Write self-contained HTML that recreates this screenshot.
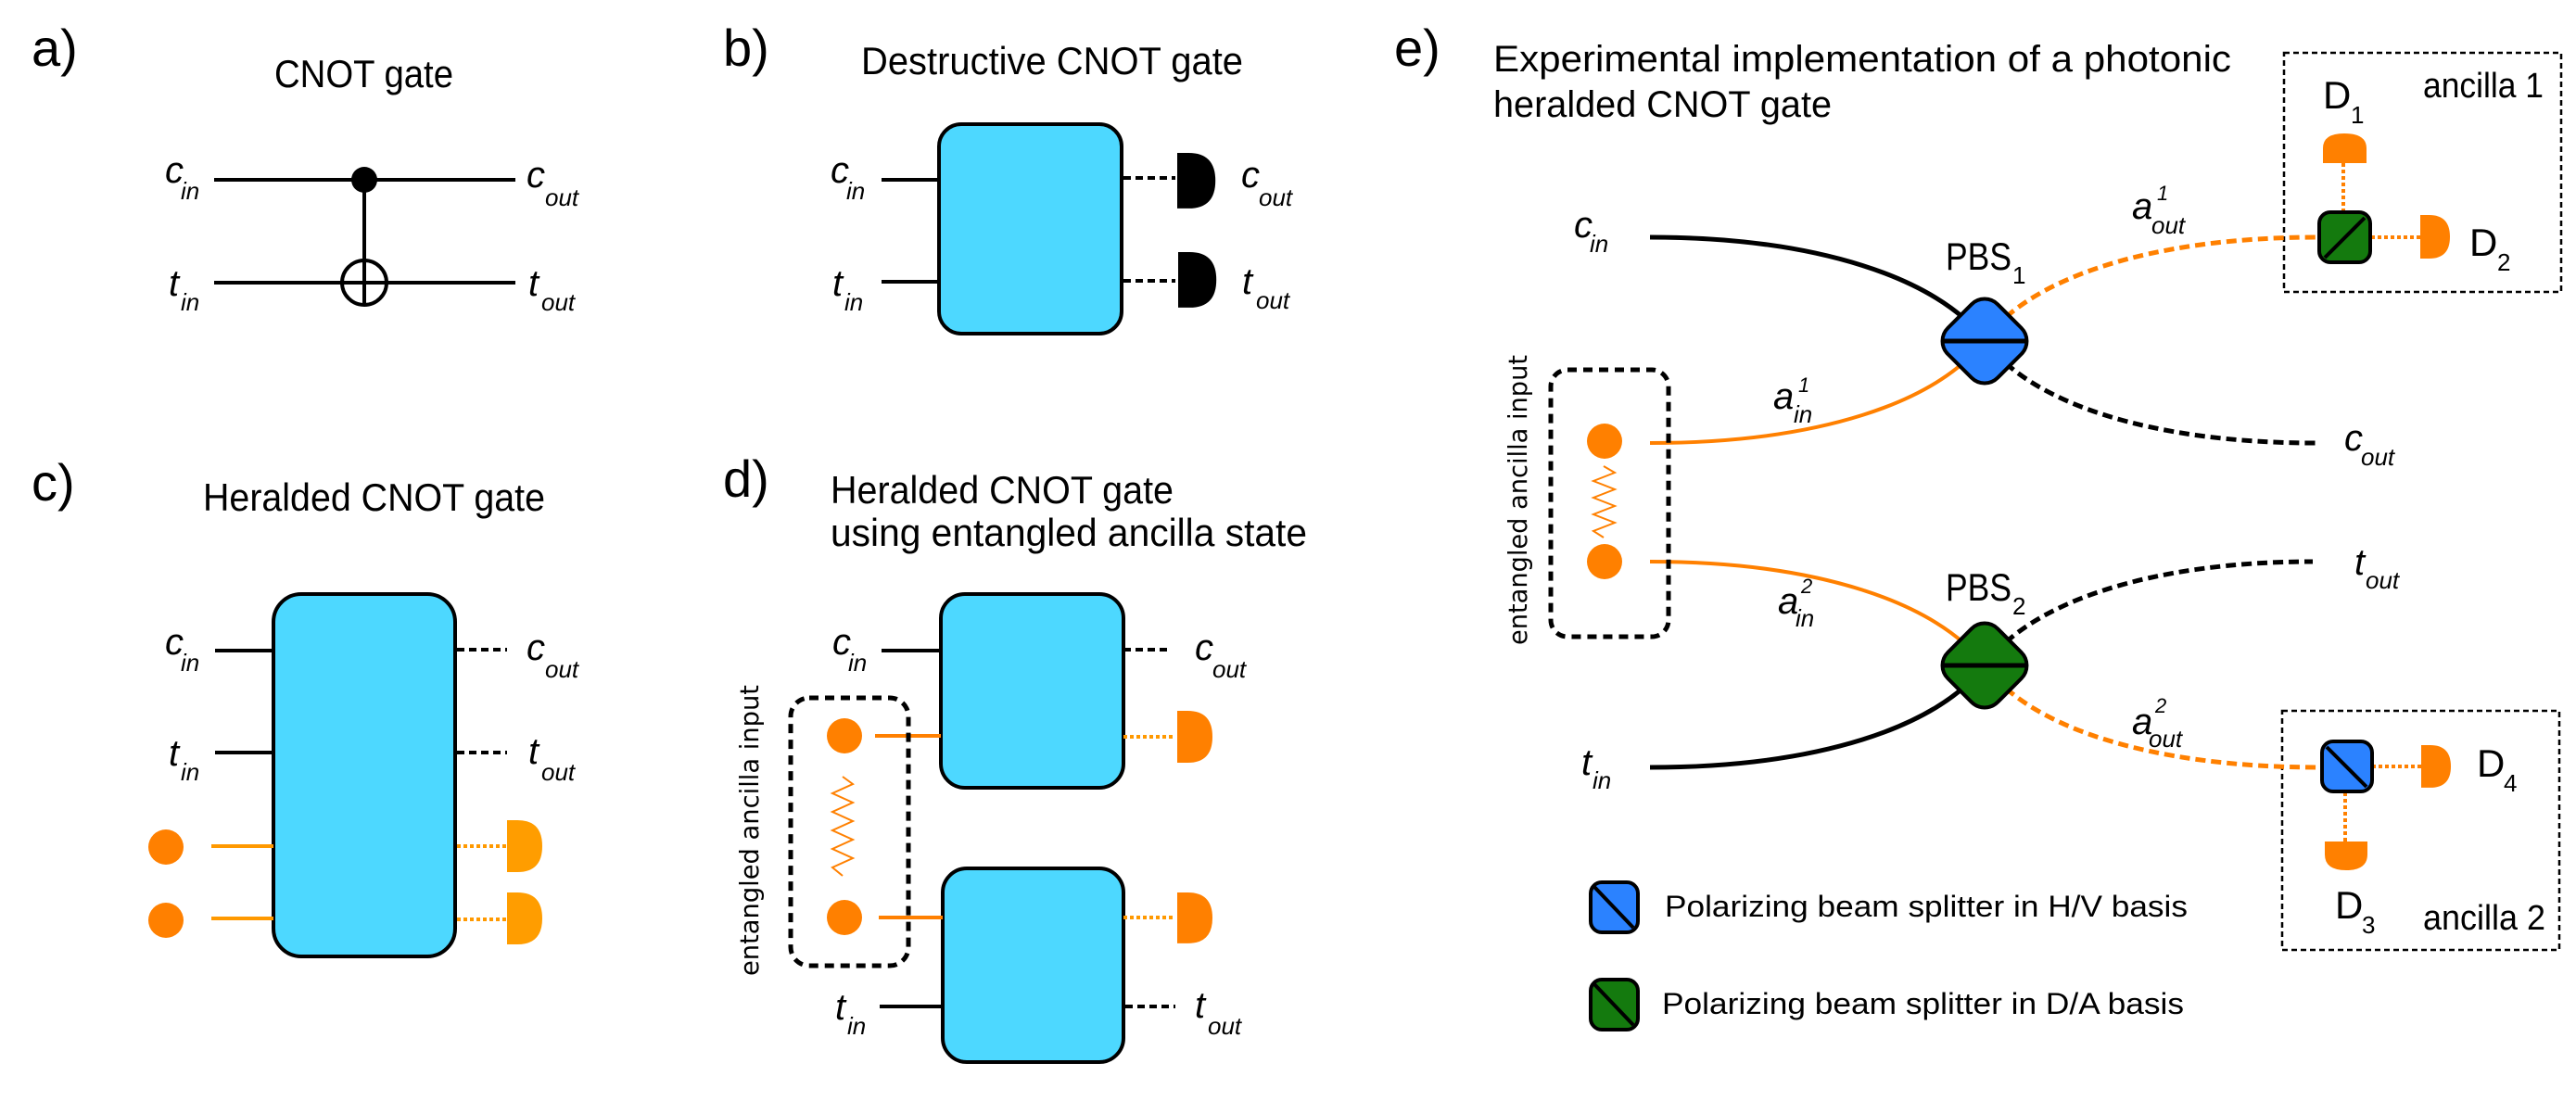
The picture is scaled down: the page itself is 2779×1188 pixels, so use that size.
<!DOCTYPE html>
<html><head><meta charset="utf-8"><style>
html,body{margin:0;padding:0;background:#fff;}
svg{display:block}
text{font-family:"Liberation Sans",sans-serif;fill:#000}
.i{font-style:italic}
</style></head><body>
<svg width="2779" height="1188" viewBox="0 0 2779 1188" xmlns="http://www.w3.org/2000/svg">
<defs>
<path id="det" d="M0,0 L12,0 Q40,0 40,28 Q40,56 12,56 L0,56 Z"/>
</defs>
<!-- Panel a -->
<text x="34" y="71" font-size="56">a)</text>
<text x="296" y="94" font-size="42" textLength="193" lengthAdjust="spacingAndGlyphs">CNOT gate</text>
<g stroke="#000" stroke-width="4" fill="none">
<line x1="231" y1="194" x2="556" y2="194"/>
<line x1="231" y1="305" x2="556" y2="305"/>
<line x1="393" y1="194" x2="393" y2="330"/>
<circle cx="393" cy="305" r="24"/>
</g>
<circle cx="393" cy="194" r="14" fill="#000"/>
<text class="i" x="178" y="197" font-size="40">c</text><text class="i" x="195" y="215" font-size="26">in</text>
<text class="i" x="182" y="319" font-size="40">t</text><text class="i" x="195" y="335" font-size="26">in</text>
<text class="i" x="568" y="202" font-size="40">c</text><text class="i" x="588" y="222" font-size="26">out</text>
<text class="i" x="570" y="319" font-size="40">t</text><text class="i" x="584" y="335" font-size="26">out</text>

<!-- Panel b -->
<text x="780" y="71" font-size="56">b)</text>
<text x="929" y="80" font-size="42" textLength="412" lengthAdjust="spacingAndGlyphs">Destructive CNOT gate</text>
<rect x="1013" y="134" width="197" height="226" rx="24" fill="#4DD8FF" stroke="#000" stroke-width="4"/>
<g stroke="#000" stroke-width="4">
<line x1="951" y1="194" x2="1013" y2="194"/>
<line x1="951" y1="304" x2="1013" y2="304"/>
<line x1="1212" y1="192" x2="1268" y2="192" stroke-dasharray="8 5"/>
<line x1="1212" y1="303" x2="1268" y2="303" stroke-dasharray="8 5"/>
</g>
<use href="#det" transform="translate(1270,165) scale(1.03,1.07)" fill="#000"/>
<use href="#det" transform="translate(1271,272) scale(1.03,1.07)" fill="#000"/>
<text class="i" x="896" y="197" font-size="40">c</text><text class="i" x="913" y="215" font-size="26">in</text>
<text class="i" x="898" y="319" font-size="40">t</text><text class="i" x="911" y="335" font-size="26">in</text>
<text class="i" x="1339" y="202" font-size="40">c</text><text class="i" x="1358" y="222" font-size="26">out</text>
<text class="i" x="1340" y="317" font-size="40">t</text><text class="i" x="1355" y="333" font-size="26">out</text>

<!-- Panel c -->
<text x="34" y="540" font-size="56">c)</text>
<text x="219" y="551" font-size="42" textLength="369" lengthAdjust="spacingAndGlyphs">Heralded CNOT gate</text>
<rect x="295" y="641" width="196" height="391" rx="30" fill="#4DD8FF" stroke="#000" stroke-width="4"/>
<g stroke-width="4">
<line x1="232" y1="702" x2="295" y2="702" stroke="#000"/>
<line x1="232" y1="812" x2="295" y2="812" stroke="#000"/>
<line x1="493" y1="701" x2="547" y2="701" stroke="#000" stroke-dasharray="8 5"/>
<line x1="493" y1="812" x2="547" y2="812" stroke="#000" stroke-dasharray="8 5"/>
<line x1="228" y1="913" x2="295" y2="913" stroke="#FF9900"/>
<line x1="228" y1="991" x2="295" y2="991" stroke="#FF9900"/>
<line x1="493" y1="913" x2="547" y2="913" stroke="#FF9900" stroke-dasharray="4 3"/>
<line x1="493" y1="992" x2="547" y2="992" stroke="#FF9900" stroke-dasharray="4 3"/>
</g>
<circle cx="179" cy="914" r="19" fill="#FF8000"/>
<circle cx="179" cy="993" r="19" fill="#FF8000"/>
<use href="#det" transform="translate(547,885) scale(0.95,1)" fill="#FF9D00"/>
<use href="#det" transform="translate(547,963) scale(0.95,1)" fill="#FF9D00"/>
<text class="i" x="178" y="706" font-size="40">c</text><text class="i" x="195" y="724" font-size="26">in</text>
<text class="i" x="182" y="826" font-size="40">t</text><text class="i" x="195" y="842" font-size="26">in</text>
<text class="i" x="568" y="712" font-size="40">c</text><text class="i" x="588" y="731" font-size="26">out</text>
<text class="i" x="570" y="824" font-size="40">t</text><text class="i" x="584" y="842" font-size="26">out</text>

<!-- Panel d -->
<text x="780" y="536" font-size="56">d)</text>
<text x="896" y="543" font-size="42" textLength="370" lengthAdjust="spacingAndGlyphs">Heralded CNOT gate</text>
<text x="896" y="589" font-size="42" textLength="514" lengthAdjust="spacingAndGlyphs">using entangled ancilla state</text>
<rect x="1015" y="641" width="197" height="209" rx="26" fill="#4DD8FF" stroke="#000" stroke-width="4"/>
<rect x="1017" y="937" width="195" height="209" rx="26" fill="#4DD8FF" stroke="#000" stroke-width="4"/>
<g stroke-width="4">
<line x1="951" y1="702" x2="1015" y2="702" stroke="#000"/>
<line x1="1212" y1="701" x2="1259" y2="701" stroke="#000" stroke-dasharray="8 5"/>
<line x1="949" y1="1086" x2="1017" y2="1086" stroke="#000"/>
<line x1="1214" y1="1086" x2="1268" y2="1086" stroke="#000" stroke-dasharray="8 5"/>
<line x1="944" y1="794" x2="1015" y2="794" stroke="#FF8000"/>
<line x1="948" y1="990" x2="1017" y2="990" stroke="#FF8000"/>
<line x1="1212" y1="795" x2="1268" y2="795" stroke="#FF9900" stroke-dasharray="4 3"/>
<line x1="1212" y1="990" x2="1268" y2="990" stroke="#FF9900" stroke-dasharray="4 3"/>
</g>
<rect x="853" y="753" width="127" height="289" rx="20" fill="none" stroke="#000" stroke-width="5" stroke-dasharray="10 7"/>
<circle cx="911" cy="794" r="19" fill="#FF8000"/>
<circle cx="911" cy="990" r="19" fill="#FF8000"/>
<polyline points="909,838 920,846 898,856 920,866 898,876 920,886 898,896 920,906 898,916 920,926 898,936 909,945" fill="none" stroke="#FF8000" stroke-width="2"/>
<use href="#det" transform="translate(1270,767) scale(0.95,1)" fill="#FF8000"/>
<use href="#det" transform="translate(1270,963) scale(0.95,0.98)" fill="#FF8000"/>
<text x="0" y="0" font-size="28" transform="translate(818,1053) rotate(-90)" textLength="314" lengthAdjust="spacingAndGlyphs" style="font-family:'DejaVu Sans',sans-serif">entangled ancilla input</text>
<text class="i" x="898" y="706" font-size="40">c</text><text class="i" x="915" y="724" font-size="26">in</text>
<text class="i" x="901" y="1100" font-size="40">t</text><text class="i" x="914" y="1116" font-size="26">in</text>
<text class="i" x="1289" y="712" font-size="40">c</text><text class="i" x="1308" y="731" font-size="26">out</text>
<text class="i" x="1289" y="1098" font-size="40">t</text><text class="i" x="1303" y="1116" font-size="26">out</text>

<!-- Panel e -->
<text x="1504" y="71" font-size="56">e)</text>
<text x="1611" y="77" font-size="40" textLength="796" lengthAdjust="spacingAndGlyphs">Experimental implementation of a photonic</text>
<text x="1611" y="126" font-size="40" textLength="365" lengthAdjust="spacingAndGlyphs">heralded CNOT gate</text>

<rect x="2464" y="57" width="299" height="258" fill="none" stroke="#000" stroke-width="2.5" stroke-dasharray="6 4"/>
<rect x="2462" y="767" width="299" height="258" fill="none" stroke="#000" stroke-width="2.5" stroke-dasharray="6 4"/>
<text x="2614" y="105" font-size="38" textLength="130" lengthAdjust="spacingAndGlyphs">ancilla 1</text>
<text x="2614" y="1003" font-size="38" textLength="132" lengthAdjust="spacingAndGlyphs">ancilla 2</text>

<!-- curves -->
<g fill="none" stroke-width="5">
<path d="M1780,256 C1960,256 2090,300 2141,367" stroke="#000"/>
<path d="M1780,478 C1960,478 2090,435 2141,367" stroke="#FF8000" stroke-width="4"/>
<path d="M2141,367 C2190,300 2320,256 2500,256" stroke="#FF8000" stroke-dasharray="11 6"/>
<path d="M2141,367 C2190,435 2320,478 2498,478" stroke="#000" stroke-dasharray="11 6"/>
<path d="M1780,606 C1960,606 2090,650 2141,718" stroke="#FF8000" stroke-width="4"/>
<path d="M1780,828 C1960,828 2090,785 2141,718" stroke="#000"/>
<path d="M2141,718 C2190,650 2320,606 2495,606" stroke="#000" stroke-dasharray="11 6"/>
<path d="M2141,718 C2190,785 2320,828 2502,828" stroke="#FF8000" stroke-dasharray="11 6"/>
</g>
<g transform="translate(2141,368)">
<rect x="-38" y="-38" width="76" height="76" rx="20" transform="rotate(45)" fill="#2B82FF" stroke="#000" stroke-width="4"/>
<line x1="-45" y1="0" x2="45" y2="0" stroke="#000" stroke-width="5"/>
</g>
<g transform="translate(2141,718)">
<rect x="-38" y="-38" width="76" height="76" rx="20" transform="rotate(45)" fill="#147A0E" stroke="#000" stroke-width="4"/>
<line x1="-45" y1="0" x2="45" y2="0" stroke="#000" stroke-width="5"/>
</g>

<!-- ancilla 1 -->
<g stroke="#FF8000" stroke-width="4" stroke-dasharray="4 3">
<line x1="2528" y1="176" x2="2528" y2="228"/>
<line x1="2558" y1="256" x2="2612" y2="256"/>
<line x1="2559" y1="827" x2="2612" y2="827"/>
<line x1="2530" y1="855" x2="2530" y2="908"/>
</g>
<rect x="2502" y="229" width="55" height="54" rx="12" fill="#147A0E" stroke="#000" stroke-width="4"/>
<line x1="2508" y1="278" x2="2551" y2="235" stroke="#000" stroke-width="4"/>
<path d="M2506,176 L2506,160 Q2506,144 2529,144 Q2553,144 2553,160 L2553,176 Z" fill="#FF8000"/>
<use href="#det" transform="translate(2611,232) scale(0.8,0.84)" fill="#FF8000"/>
<rect x="2505" y="800" width="54" height="54" rx="12" fill="#2B82FF" stroke="#000" stroke-width="4"/>
<line x1="2510" y1="806" x2="2553" y2="849" stroke="#000" stroke-width="4"/>
<use href="#det" transform="translate(2612,804) scale(0.8,0.82)" fill="#FF8000"/>
<path d="M2508,908 L2554,908 L2554,922 Q2554,939 2531,939 Q2508,939 2508,922 Z" fill="#FF8000"/>

<text x="2506" y="117" font-size="42">D</text><text x="2536" y="133" font-size="26">1</text>
<text x="2664" y="276" font-size="42">D</text><text x="2694" y="292" font-size="26">2</text>
<text x="2519" y="991" font-size="42">D</text><text x="2548" y="1007" font-size="26">3</text>
<text x="2672" y="838" font-size="42">D</text><text x="2701" y="854" font-size="26">4</text>

<text x="2099" y="291" font-size="42" textLength="71" lengthAdjust="spacingAndGlyphs">PBS</text><text x="2171" y="306" font-size="26">1</text>
<text x="2099" y="648" font-size="42" textLength="71" lengthAdjust="spacingAndGlyphs">PBS</text><text x="2171" y="663" font-size="26">2</text>

<!-- entangled box e -->
<rect x="1673" y="399" width="127" height="288" rx="18" fill="none" stroke="#000" stroke-width="5" stroke-dasharray="10 7"/>
<circle cx="1731" cy="476" r="19" fill="#FF8000"/>
<circle cx="1731" cy="606" r="19" fill="#FF8000"/>
<polyline points="1730,503 1742,510 1719,519 1742,528 1719,537 1742,546 1719,555 1742,564 1719,573 1730,580" fill="none" stroke="#FF8000" stroke-width="2"/>
<text x="0" y="0" font-size="28" transform="translate(1647,696) rotate(-90)" textLength="313" lengthAdjust="spacingAndGlyphs" style="font-family:'DejaVu Sans',sans-serif">entangled ancilla input</text>

<text class="i" x="1698" y="256" font-size="40">c</text><text class="i" x="1715" y="272" font-size="26">in</text>
<text class="i" x="1706" y="836" font-size="40">t</text><text class="i" x="1718" y="851" font-size="26">in</text>
<text class="i" x="2529" y="486" font-size="40">c</text><text class="i" x="2547" y="502" font-size="26">out</text>
<text class="i" x="2540" y="620" font-size="40">t</text><text class="i" x="2552" y="635" font-size="26">out</text>
<text class="i" x="2300" y="236" font-size="40">a</text><text class="i" x="2327" y="216" font-size="22">1</text><text class="i" x="2321" y="252" font-size="26">out</text>
<text class="i" x="2300" y="792" font-size="40">a</text><text class="i" x="2325" y="769" font-size="22">2</text><text class="i" x="2318" y="806" font-size="26">out</text>
<text class="i" x="1913" y="441" font-size="40">a</text><text class="i" x="1940" y="423" font-size="22">1</text><text class="i" x="1935" y="456" font-size="26">in</text>
<text class="i" x="1918" y="662" font-size="40">a</text><text class="i" x="1943" y="640" font-size="22">2</text><text class="i" x="1937" y="676" font-size="26">in</text>

<!-- legend -->
<rect x="1716" y="952" width="51" height="54" rx="12" fill="#2B82FF" stroke="#000" stroke-width="4"/>
<line x1="1720" y1="957" x2="1762" y2="1001" stroke="#000" stroke-width="4"/>
<rect x="1716" y="1057" width="51" height="54" rx="12" fill="#147A0E" stroke="#000" stroke-width="4"/>
<line x1="1720" y1="1062" x2="1762" y2="1106" stroke="#000" stroke-width="4"/>
<text x="1796" y="989" font-size="32" textLength="564" lengthAdjust="spacingAndGlyphs">Polarizing beam splitter in H/V basis</text>
<text x="1793" y="1094" font-size="32" textLength="563" lengthAdjust="spacingAndGlyphs">Polarizing beam splitter in D/A basis</text>
</svg>
</body></html>
